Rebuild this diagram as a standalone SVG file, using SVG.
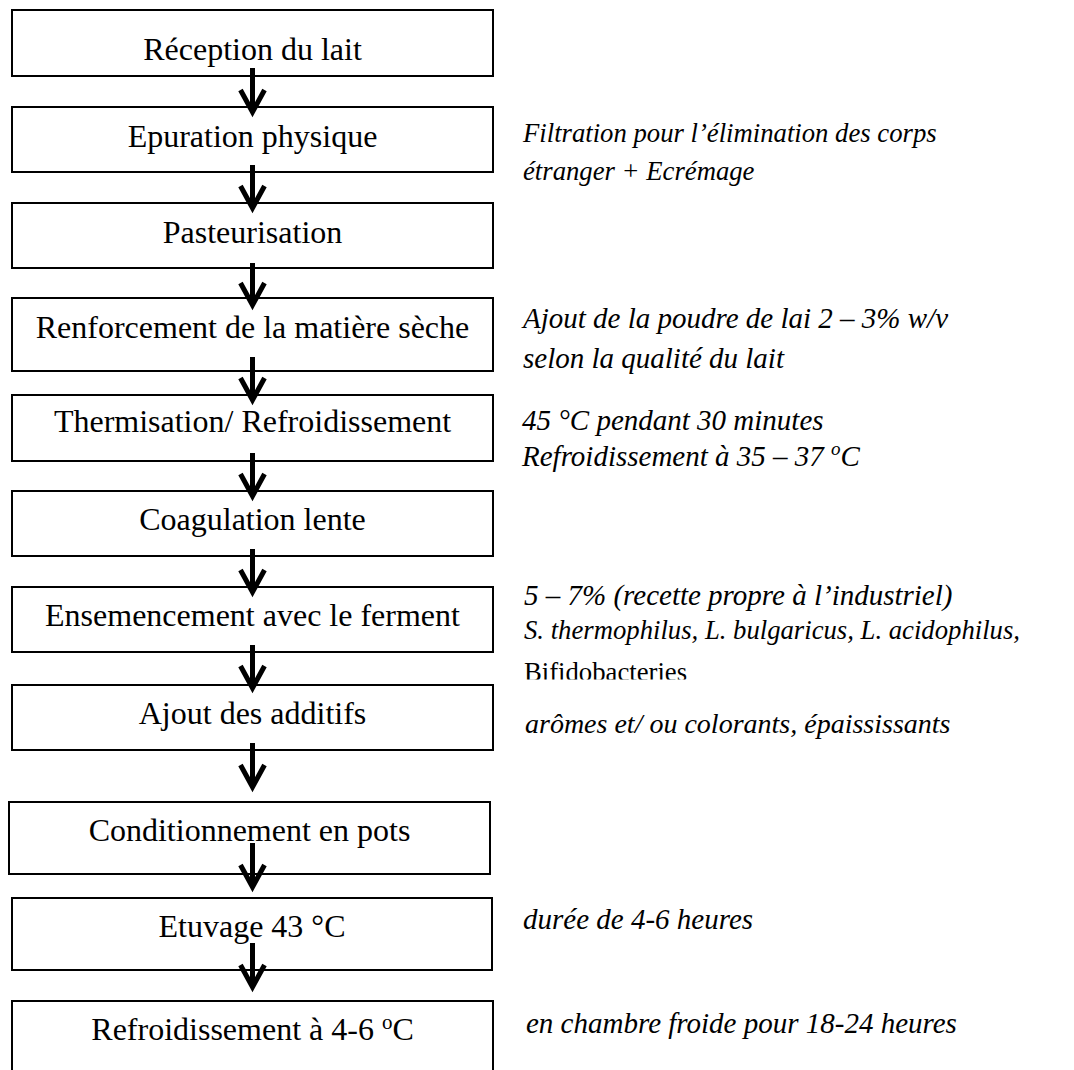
<svg xmlns="http://www.w3.org/2000/svg" width="1074" height="1070" viewBox="0 0 1074 1070">
<style>
.box{fill:#fff;stroke:#000;stroke-width:2}
.bt{font-family:"Liberation Serif","Times New Roman",serif;font-size:32px;fill:#000;text-anchor:middle}
.nt{font-family:"Liberation Serif","Times New Roman",serif;font-style:italic;fill:#000}
.s29{font-size:29px}
.s27{font-size:26.7px}
.s28{font-size:28px}
.reg{font-style:normal}
.arr{stroke:#000;stroke-width:5;fill:none;marker-end:url(#head)}
</style>
<defs>
<marker id="head" markerUnits="userSpaceOnUse" viewBox="-32 -16 40 32" refX="0" refY="0" markerWidth="40" markerHeight="32" orient="auto" overflow="visible">
<path d="M-22,-12 L0,0 L-22,12" fill="none" stroke="#000" stroke-width="5" stroke-linejoin="miter"/>
</marker>
<clipPath id="clipBifido"><rect x="500" y="640" width="574" height="39.5"/></clipPath>
</defs>
<rect width="1074" height="1070" fill="#fff"/>

<g id="n1"><rect class="box" x="12" y="10" width="481" height="66"/><text class="bt" x="252.5" y="60">Réception du lait</text></g>
<g id="n2"><rect class="box" x="12" y="107" width="481" height="65"/><text class="bt" x="252.5" y="147">Epuration physique</text></g>
<g id="n3"><rect class="box" x="12" y="203" width="481" height="65"/><text class="bt" x="252.5" y="243">Pasteurisation</text></g>
<g id="n4"><rect class="box" x="12" y="298" width="481" height="73"/><text class="bt" x="252.5" y="338">Renforcement de la matière sèche</text></g>
<g id="n5"><rect class="box" x="12" y="395" width="481" height="66"/><text class="bt" x="252.5" y="432">Thermisation/ Refroidissement</text></g>
<g id="n6"><rect class="box" x="12" y="491" width="481" height="65"/><text class="bt" x="252.5" y="530">Coagulation lente</text></g>
<g id="n7"><rect class="box" x="12" y="587" width="481" height="65"/><text class="bt" x="252.5" y="626">Ensemencement avec le ferment</text></g>
<g id="n8"><rect class="box" x="12" y="685" width="481" height="65"/><text class="bt" x="252.5" y="724">Ajout des additifs</text></g>
<g id="n9"><rect class="box" x="9" y="802" width="481" height="72"/><text class="bt" x="249.5" y="841">Conditionnement en pots</text></g>
<g id="n10"><rect class="box" x="12" y="898" width="480" height="72"/><text class="bt" x="252" y="937">Etuvage 43 °C</text></g>
<g id="n11"><rect class="box" x="12" y="1001" width="481" height="90"/><text class="bt" x="252.5" y="1040">Refroidissement à 4-6 <tspan font-size="21" dy="-11">o</tspan><tspan dy="11">C</tspan></text></g>

<g id="connectors">
<line class="arr" x1="252.5" y1="68" x2="252.5" y2="112"/>
<line class="arr" x1="252.5" y1="165" x2="252.5" y2="208"/>
<line class="arr" x1="252.5" y1="263" x2="252.5" y2="305"/>
<line class="arr" x1="252.5" y1="357" x2="252.5" y2="400"/>
<line class="arr" x1="252.5" y1="453" x2="252.5" y2="496"/>
<line class="arr" x1="252.5" y1="549" x2="252.5" y2="592"/>
<line class="arr" x1="252.5" y1="645" x2="252.5" y2="688"/>
<line class="arr" x1="252.5" y1="743" x2="252.5" y2="787"/>
<line class="arr" x1="252.5" y1="843" x2="252.5" y2="887"/>
<line class="arr" x1="252.5" y1="943" x2="252.5" y2="987"/>
</g>

<g id="notes">
<text class="nt s27" x="523" y="142">Filtration pour l’élimination des corps</text>
<text class="nt s27" x="523" y="180">étranger + Ecrémage</text>
<text class="nt s29" x="523" y="328">Ajout de la poudre de lai 2 – 3% w/v</text>
<text class="nt s29" x="523" y="368">selon la qualité du lait</text>
<text class="nt s29" x="522" y="430">45 °C pendant 30 minutes</text>
<text class="nt s29" x="522" y="466">Refroidissement à 35 – 37 <tspan font-size="19" dy="-11">o</tspan><tspan dy="11">C</tspan></text>
<text class="nt s29" x="524" y="605">5 – 7% (recette propre à l’industriel)</text>
<text class="nt s27" x="524" y="639">S. thermophilus, L. bulgaricus, L. acidophilus,</text>
<text class="nt s27 reg" x="524" y="681" clip-path="url(#clipBifido)">Bifidobacteries</text>
<text class="nt s28" x="525" y="733">arômes et/ ou colorants, épaississants</text>
<text class="nt s29" x="523" y="929">durée de 4-6 heures</text>
<text class="nt s29" x="526" y="1033">en chambre froide pour 18-24 heures</text>
</g>
</svg>
